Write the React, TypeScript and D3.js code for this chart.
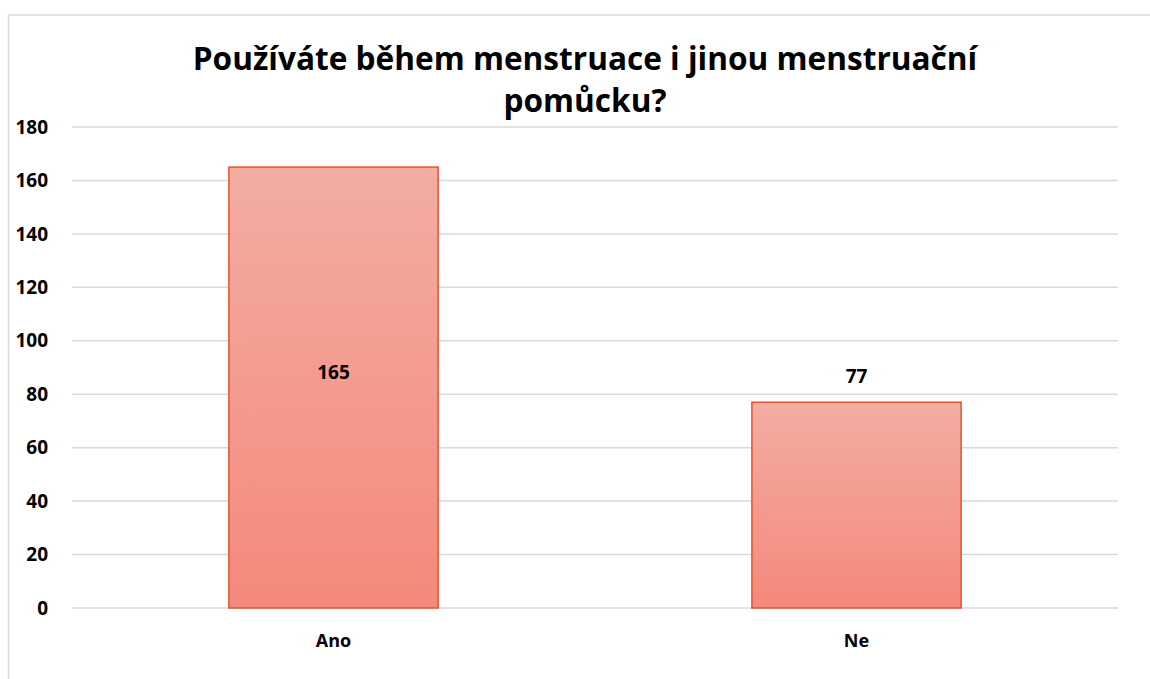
import React from 'react';
import * as d3 from 'd3';

const categories = ['Ano', 'Ne'];
const values = [165, 77];
const yTicks = [0, 20, 40, 60, 80, 100, 120, 140, 160, 180];
const titleLines = ['Používáte během menstruace i jinou menstruační', 'pomůcku?'];

const W = 1150;
const H = 679;
const margin = { top: 127, right: 32, bottom: 71, left: 72 };
const font = '"Open Sans", sans-serif';

const App = () => {
  const width = W - margin.left - margin.right;
  const height = H - margin.top - margin.bottom;

  const x = d3.scaleBand<string>()
    .domain(categories)
    .range([0, width])
    .paddingInner(0.6)
    .paddingOuter(0.3);

  const y = d3.scaleLinear()
    .domain([0, 180])
    .range([height, 0]);

  return (
    <svg width={W} height={H} style={{ position: 'absolute', left: 0, top: 0, background: '#fff' }}>
      <defs>
        <linearGradient id="barFill" x1="0" y1="0" x2="0" y2="1">
          <stop offset="0%" stopColor="#f3ada2" />
          <stop offset="100%" stopColor="#f4897b" />
        </linearGradient>
      </defs>
      {/* chart frame */}
      <rect x={8.5} y={15} width={1160} height={700} fill="#fff" stroke="#d9d9d9" strokeWidth={1.5} />

      {titleLines.map((t, i) => (
        <text key={i} x={585} y={70 + i * 42} textAnchor="middle"
          style={{ fontFamily: font, fontWeight: 700, fontSize: 31.6 }} fill="#000">{t}</text>
      ))}

      <g transform={`translate(${margin.left},${margin.top})`}>
        {yTicks.map(t => (
          <g key={t}>
            <line x1={0} x2={width} y1={y(t)} y2={y(t)} stroke="#d9d9d9" strokeWidth={1.5} />
            <text x={-24} y={y(t)} dy="0.35em" textAnchor="end"
              style={{ fontFamily: font, fontWeight: 700, fontSize: 19 }} fill="#000">{t}</text>
          </g>
        ))}

        {categories.map((c, i) => {
          const bx = x(c)!;
          const bw = x.bandwidth();
          const by = y(values[i]);
          const inside = values[i] > 120;
          return (
            <g key={c}>
              <rect x={bx} y={by} width={bw} height={height - by}
                fill="url(#barFill)" stroke="#e8522f" strokeWidth={1.5} />
              <text x={bx + bw / 2} y={inside ? y(values[i]) + 205 : by - 26} dy="0.35em" textAnchor="middle"
                style={{ fontFamily: font, fontWeight: 700, fontSize: 19 }} fill="#000">{values[i]}</text>
              <text x={bx + bw / 2} y={height + 33} dy="0.35em" textAnchor="middle"
                style={{ fontFamily: font, fontWeight: 700, fontSize: 18 }} fill="#000">{c}</text>
            </g>
          );
        })}
      </g>
    </svg>
  );
};

export default App;
